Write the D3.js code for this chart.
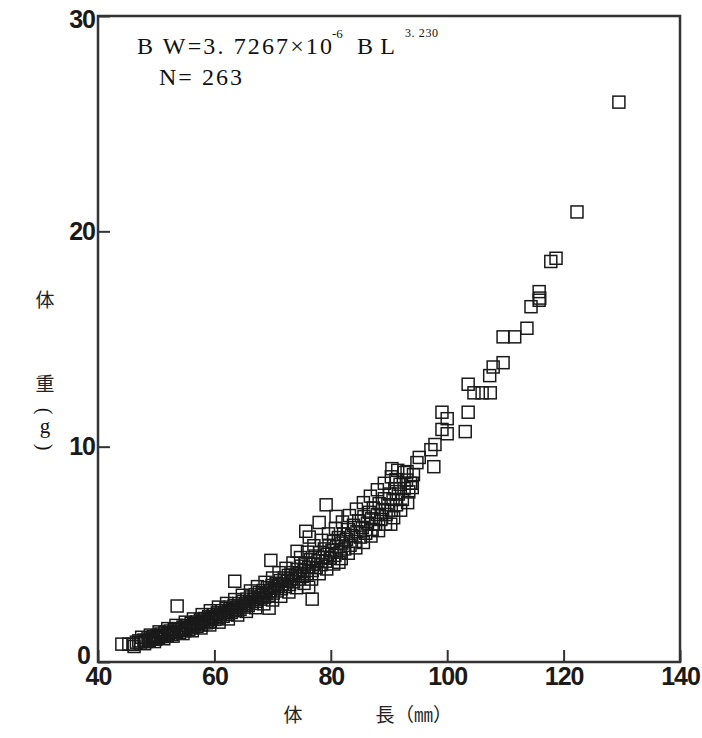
<!DOCTYPE html>
<html>
<head>
<meta charset="utf-8">
<script src="https://cdnjs.cloudflare.com/ajax/libs/d3/7.8.5/d3.min.js"></script>
<style>
  body { margin: 0; background: #fff; }
  .tick text { font-family: "Liberation Sans", Arial, sans-serif; font-weight: bold; font-size: 25px; fill: #1a1a1a; letter-spacing: -1px; }
  .jp { font-family: "Noto Sans CJK JP", sans-serif; fill: #222; }
  .formula { font-family: "Liberation Serif", "DejaVu Serif", serif; fill: #111; }
</style>
</head>
<body>
<script>
// body length (mm), body weight (g)
const samples = [
  [44.1, 0.83], [45.3, 0.83], [46.0, 0.82], [46.6, 0.92], [47.0, 0.98], [47.3, 0.88], [47.9, 1.02], [48.2, 0.95],
  [48.6, 1.12], [48.8, 1.01], [49.3, 1.08], [49.5, 1.18], [49.9, 1.06], [50.2, 1.22], [50.4, 1.13], [50.8, 1.30],
  [51.0, 1.18], [51.4, 1.24], [51.5, 1.36], [51.9, 1.21], [52.1, 1.32], [52.4, 1.44], [52.7, 1.28], [53.0, 1.38],
  [53.1, 1.52], [53.5, 1.41], [53.6, 2.60], [53.8, 1.55], [54.0, 1.36], [54.4, 1.50], [54.6, 1.62], [54.9, 1.45],
  [55.1, 1.57], [55.3, 1.70], [55.6, 1.52], [55.9, 1.66], [56.0, 1.80], [56.3, 1.60], [56.6, 1.74], [56.9, 1.86],
  [57.0, 1.66], [57.3, 1.80], [57.6, 1.95], [57.8, 1.72], [58.1, 1.88], [58.3, 2.02], [58.6, 1.82], [58.9, 1.96],
  [59.0, 2.10], [59.3, 1.88], [59.6, 2.05], [59.8, 2.20], [60.1, 1.98], [60.3, 2.12], [60.5, 2.28], [60.8, 2.05],
  [61.0, 2.20], [61.2, 2.38], [61.5, 2.12], [61.7, 2.28], [62.0, 2.48], [62.2, 2.20], [62.4, 2.36], [62.7, 2.55],
  [62.9, 2.30], [63.1, 2.44], [63.4, 2.62], [63.5, 3.75], [63.7, 2.38], [63.9, 2.52], [64.2, 2.72], [64.4, 2.45],
  [64.6, 2.62], [64.9, 2.82], [65.1, 2.55], [65.3, 2.70], [65.6, 2.92], [65.8, 2.62], [66.0, 2.80], [66.3, 3.02],
  [66.5, 2.72], [66.8, 2.90], [67.0, 3.12], [67.2, 2.82], [67.5, 3.00], [67.7, 3.22], [67.9, 2.92], [68.2, 3.10],
  [68.4, 3.32], [68.6, 3.00], [68.9, 3.20], [69.1, 3.45], [69.4, 2.50], [69.4, 3.10], [69.6, 3.30], [69.7, 4.72],
  [69.9, 3.55], [70.1, 3.20], [70.3, 3.42], [70.6, 3.66], [70.8, 3.30], [71.0, 3.52], [71.3, 3.78], [71.5, 3.40],
  [71.7, 3.62], [72.0, 3.90], [72.2, 3.50], [72.5, 3.75], [72.7, 4.02], [72.9, 3.60], [73.2, 3.88], [73.4, 4.15],
  [73.6, 3.72], [73.9, 4.00], [74.2, 4.30], [74.2, 5.14], [74.4, 3.85], [74.6, 4.12], [74.9, 4.45], [75.1, 3.98],
  [75.4, 4.25], [75.7, 6.07], [75.7, 4.60], [75.9, 4.10], [76.2, 3.47], [76.3, 5.80], [76.2, 4.40], [76.5, 4.75],
  [76.8, 2.92], [76.8, 4.25], [77.0, 4.55], [77.3, 4.92], [77.5, 4.38], [77.8, 4.70], [78.0, 6.48], [78.1, 5.08],
  [78.3, 4.52], [78.6, 4.85], [78.9, 5.25], [79.2, 7.30], [79.1, 4.68], [79.4, 5.00], [79.7, 5.42], [79.9, 4.82],
  [80.2, 5.18], [80.5, 5.60], [80.9, 6.76], [80.7, 4.95], [81.0, 5.35], [81.4, 4.63], [81.3, 5.78], [81.6, 5.10],
  [81.9, 5.52], [82.2, 5.95], [82.4, 5.25], [82.7, 5.70], [83.0, 6.15], [83.3, 5.42], [83.6, 5.88], [83.9, 6.35],
  [84.2, 5.60], [84.5, 6.05], [84.8, 6.55], [85.1, 5.80], [85.4, 6.25], [85.7, 6.75], [86.0, 5.98], [86.3, 6.45],
  [86.6, 6.95], [87.1, 6.16], [87.0, 6.65], [87.3, 7.15], [87.7, 6.40], [88.0, 6.85], [88.3, 7.35], [88.6, 6.62],
  [88.9, 7.08], [89.2, 7.58], [89.5, 6.85], [89.8, 7.30], [90.3, 6.40], [90.1, 7.80], [90.5, 8.98], [90.4, 7.05],
  [90.7, 7.55], [91.0, 8.05], [91.2, 8.47], [91.3, 7.30], [91.6, 7.80], [91.9, 8.25], [92.3, 7.55], [92.6, 8.80],
  [92.6, 8.05], [93.1, 8.84], [93.0, 8.45], [93.4, 7.90], [93.7, 8.30], [94.0, 8.10], [94.0, 8.30], [94.2, 8.70],
  [94.8, 9.26], [95.2, 9.50], [97.2, 9.86], [97.7, 9.07], [97.9, 10.1], [99.1, 11.6], [100.0, 11.3], [99.1, 10.8],
  [100.0, 10.6], [103.1, 10.7], [103.6, 11.6], [103.6, 12.9], [104.6, 12.5], [106.0, 12.5], [107.4, 12.5], [107.3, 13.3],
  [107.9, 13.7], [109.6, 13.9], [109.6, 15.1], [111.6, 15.1], [113.7, 15.5], [114.4, 16.5], [115.8, 17.2], [115.9, 16.9],
  [115.8, 16.8], [117.8, 18.6], [118.7, 18.75], [122.3, 20.9], [129.5, 26.0]
];

// the upper and lower edge of the dense band
const bandUpper = [
  [47.5, 1.15], [49.0, 1.25], [50.5, 1.40], [52.0, 1.55], [53.4, 1.70], [55.0, 1.85], [56.4, 2.00], [57.9, 2.20],
  [59.3, 2.38], [60.7, 2.55], [62.1, 2.72], [63.5, 2.90], [64.8, 3.10], [66.2, 3.30], [67.4, 3.50], [68.7, 3.70],
  [70.0, 3.90], [71.1, 4.15], [72.3, 4.35], [73.5, 4.60], [74.8, 4.85], [76.0, 5.10], [77.1, 5.40], [78.4, 5.65],
  [79.6, 5.95], [80.8, 6.20], [82.0, 6.50], [83.2, 6.80], [84.4, 7.10], [85.6, 7.40], [86.8, 7.70], [88.0, 8.00],
  [89.2, 8.30], [90.4, 8.60], [91.5, 8.90]
];
const bandLower = [
  [46.2, 0.72], [48.0, 0.85], [49.7, 0.95], [51.3, 1.08], [52.9, 1.20], [54.6, 1.32], [56.2, 1.45], [57.7, 1.58],
  [59.2, 1.72], [60.8, 1.85], [62.4, 2.00], [64.0, 2.18], [65.5, 2.35], [67.1, 2.52], [68.5, 2.70], [70.0, 2.88],
  [71.4, 3.05], [72.8, 3.25], [74.1, 3.45], [75.4, 3.65], [76.7, 3.85], [78.0, 4.10], [79.3, 4.32], [80.5, 4.55],
  [81.8, 4.80], [83.0, 5.05], [84.3, 5.30], [85.6, 5.55], [86.9, 5.85], [88.2, 6.10], [89.4, 6.40], [90.8, 6.70],
  [92.0, 7.05], [93.2, 7.40]
];

const xTicks = [40, 60, 80, 100, 120, 140];
const yTicks = [0, 10, 20, 30];

const w = 702;
const h = 738;
const padLeft = 98;
const padRight = 680;
const padTop = 16;
const padBottom = 662;
const box = 12;

const xScale = d3.scaleLinear().domain([40, 140]).range([padLeft, padRight]);
const yScale = d3.scaleLinear().domain([0, 30]).range([padBottom, padTop]);

const svg = d3.select("body").append("svg").attr("width", w).attr("height", h);

const allPoints = samples.concat(bandUpper, bandLower);

const marks = svg.append("g").selectAll("rect").data(allPoints).enter().append("rect");

marks.attr("x", (d) => xScale(d[0]) - box / 2).attr("y", (d) => yScale(d[1]) - box / 2)
  .attr("width", box).attr("height", box)
  .attr("fill", "none").attr("stroke", "#1a1a1a").attr("stroke-width", 1.5);

const xAxis = d3.axisBottom(xScale).tickValues(xTicks).tickSize(-12).tickPadding(5).tickFormat(d3.format("d"));
const yAxis = d3.axisLeft(yScale).tickValues(yTicks).tickSize(-12).tickPadding(3).tickFormat(d3.format("d"));

const gx = svg.append("g").attr("transform", "translate(0," + padBottom + ")").call(xAxis);
const gy = svg.append("g").attr("transform", "translate(" + padLeft + ",0)").call(yAxis);

[gx, gy].forEach((g) => {
  g.select(".domain").remove();
  g.selectAll(".tick line").attr("stroke", "#333").attr("stroke-width", 2);
});
gy.selectAll(".tick text").filter((d) => d === 0).attr("dy", "0.05em").attr("x", -8);
gy.selectAll(".tick text").filter((d) => d === 30).attr("dy", "0.45em");

svg.append("rect").attr("x", padLeft).attr("y", padTop).attr("width", padRight - padLeft).attr("height", padBottom - padTop)
  .attr("fill", "none").attr("stroke", "#333").attr("stroke-width", 2.5);

// formula
svg.append("text").attr("class", "formula").attr("x", 137).attr("y", 54).attr("font-size", 24)
  .attr("textLength", 195).attr("lengthAdjust", "spacing").text("B W=3. 7267×10");
svg.append("text").attr("class", "formula").attr("x", 332).attr("y", 38).attr("font-size", 13).text("-6");
svg.append("text").attr("class", "formula").attr("x", 357).attr("y", 54).attr("font-size", 24)
  .attr("textLength", 38).attr("lengthAdjust", "spacing").text("B L");
svg.append("text").attr("class", "formula").attr("x", 405).attr("y", 37).attr("font-size", 12)
  .attr("textLength", 33).attr("lengthAdjust", "spacing").text("3. 230");
svg.append("text").attr("class", "formula").attr("x", 159).attr("y", 85).attr("font-size", 24)
  .attr("textLength", 83).attr("lengthAdjust", "spacing").text("N= 263");

// axis titles, written vertically on the left
const ty = 45;
svg.append("text").attr("class", "jp").attr("x", ty).attr("y", 307).attr("text-anchor", "middle").attr("font-size", 19).text("体");
svg.append("text").attr("class", "jp").attr("x", ty).attr("y", 391).attr("text-anchor", "middle").attr("font-size", 19).text("重");
svg.append("text").attr("class", "formula").attr("text-anchor", "middle").attr("dominant-baseline", "central")
  .attr("font-size", 20).attr("transform", "translate(" + ty + ",411) rotate(90)").text("(");
svg.append("text").attr("class", "formula").attr("x", ty).attr("y", 433).attr("text-anchor", "middle").attr("font-size", 21).text("g");
svg.append("text").attr("class", "formula").attr("text-anchor", "middle").attr("dominant-baseline", "central")
  .attr("font-size", 20).attr("transform", "translate(" + ty + ",447) rotate(90)").text(")");

svg.append("text").attr("class", "jp").attr("x", 293).attr("y", 722).attr("text-anchor", "middle").attr("font-size", 19).text("体");
svg.append("text").attr("class", "jp").attr("x", 385).attr("y", 722).attr("text-anchor", "middle").attr("font-size", 19).text("長");
svg.append("text").attr("class", "jp").attr("x", 395).attr("y", 722).attr("font-size", 19).text("（㎜）");
</script>
</body>
</html>
